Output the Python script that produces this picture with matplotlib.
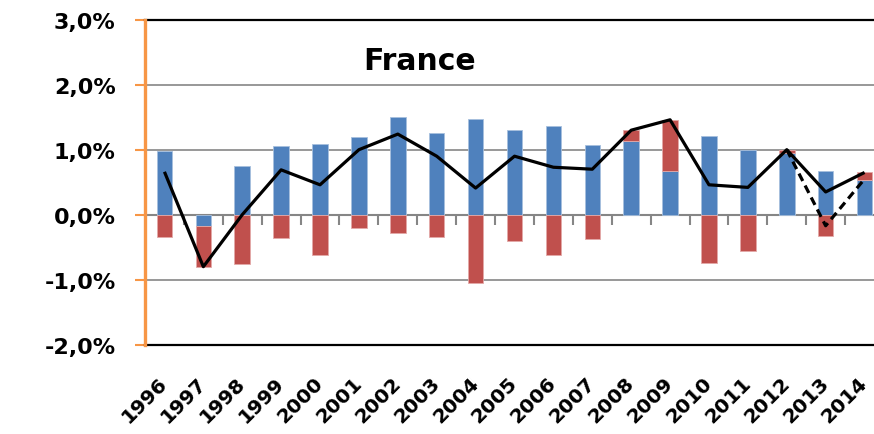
import numpy as np
import matplotlib
matplotlib.use("Agg")
import matplotlib.pyplot as plt
from matplotlib.ticker import FuncFormatter

years = [str(y) for y in range(1996, 2015)]

# Contribution series (percentage points)
blue_vals = [0.98, -0.17, 0.75, 1.05, 1.09, 1.19, 1.51, 1.25, 1.47, 1.30,
             1.36, 1.08, 1.14, 0.68, 1.21, 0.99, 0.95, 0.67, 0.54]
red_vals = [-0.34, -0.64, -0.76, -0.36, -0.62, -0.21, -0.28, -0.35, -1.05, -0.40,
            -0.62, -0.38, 0.16, 0.78, -0.75, -0.56, 0.05, -0.32, 0.11]

# Total (solid line) and alternative path for the last years (dashed line)
total_vals = [0.66, -0.80, 0.00, 0.69, 0.46, 1.00, 1.24, 0.90, 0.41, 0.90,
              0.73, 0.70, 1.30, 1.46, 0.46, 0.42, 1.00, 0.35, 0.65]
alt_vals = [np.nan] * 16 + [1.00, -0.17, 0.55]

y_ticks = [-2.0, -1.0, 0.0, 1.0, 2.0, 3.0]
title = "France"

BLUE = "#4F81BD"
RED = "#C0504D"
GRAY = "#868686"
ORANGE = "#F79646"
FONT = "DejaVu Sans"

W, H, DPI = 874, 435, 100
fig = plt.figure(figsize=(W / DPI, H / DPI), dpi=DPI)
ax = fig.add_axes([145 / W, (H - 345.7) / H, (884 - 145) / W, 325 / H])

x = np.arange(len(years))
blue = np.array(blue_vals)
red = np.array(red_vals)
bar_w = 0.40

# Stack positives upward and negatives downward separately
red_bottom = np.where(np.sign(red) == np.sign(blue), blue, 0.0)

ax.bar(x, blue, width=bar_w, color=BLUE, edgecolor="#A7C0DE", linewidth=0.6, zorder=2)
ax.bar(x, red, width=bar_w, bottom=red_bottom, color=RED, edgecolor="#E3A9A8",
       linewidth=0.6, zorder=2)

ax.plot(x, total_vals, color="black", lw=2.3, zorder=4,
        solid_joinstyle="round", solid_capstyle="butt")
ax.plot(x, alt_vals, color="black", lw=2.3, zorder=5, dashes=(2.6, 1.6),
        dash_capstyle="butt")

# Gridlines and zero axis with category separators
for yv in y_ticks[1:-1]:
    ax.axhline(yv, color=GRAY, lw=1.2 if yv != 0 else 1.5, zorder=1)
bounds = np.arange(0.5, len(years) - 1, 1.0)
ax.plot(bounds, np.zeros_like(bounds), ls="none", marker=3, ms=7.0, mew=1.5,
        color=GRAY, zorder=1)

# Black frame lines at the top and bottom of the value range
ax.axhline(y_ticks[-1], color="black", lw=1.6, zorder=3, clip_on=False)
ax.axhline(y_ticks[0], color="black", lw=1.6, zorder=3, clip_on=False)

ax.set_xlim(-0.5, len(years) - 0.5)
ax.set_ylim(y_ticks[0], y_ticks[-1])

for side in ("top", "bottom", "right"):
    ax.spines[side].set_visible(False)
ax.spines["left"].set_color(ORANGE)
ax.spines["left"].set_linewidth(2.4)
ax.spines["left"].set_zorder(6)

ax.set_yticks(y_ticks)
ax.yaxis.set_major_formatter(FuncFormatter(lambda v, p: f"{v:.1f}%".replace(".", ",")))
ax.tick_params(axis="y", direction="out", length=7.2, width=1.5, color=ORANGE,
               pad=14, labelsize=16)
for lab in ax.get_yticklabels():
    lab.set_fontweight("bold")
    lab.set_fontfamily(FONT)

ax.set_xticks(x)
ax.set_xticklabels(years)
ax.tick_params(axis="x", length=0, pad=25, labelsize=14.5)
for lab in ax.get_xticklabels():
    lab.set_rotation(45)
    lab.set_ha("right")
    lab.set_va("center")
    lab.set_rotation_mode("anchor")
    lab.set_fontweight("bold")
    lab.set_fontfamily(FONT)

ax.text(0.371, 0.873, title, transform=ax.transAxes, ha="center", va="center",
        fontsize=21.5, fontweight="bold", fontfamily=FONT)

fig.savefig("out.png", dpi=DPI)
